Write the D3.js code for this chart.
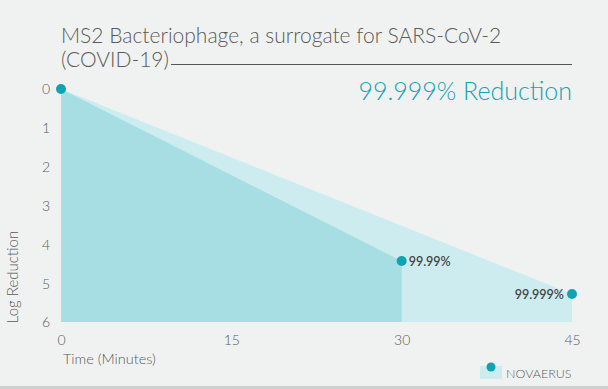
<!DOCTYPE html>
<html>
<head>
<meta charset="utf-8">
<script src="https://cdn.jsdelivr.net/npm/d3@7"></script>
<style>
  html, body { margin: 0; padding: 0; background: #f0f2f1; }
  svg { display: block; font-family: Lato, "Open Sans", sans-serif; }
</style>
</head>
<body>
<svg id="chart" width="608" height="389"></svg>
<script>
// ===== Data =====
const minutes = [0, 30, 45];
const logRed = [0, 4.43, 5.28];
const pctLabels = ["", "99.99%", "99.999%"];
const yTicks = [0, 1, 2, 3, 4, 5, 6];
const xTicks = [0, 15, 30, 45];

const svg = d3.select("#chart");
const x = d3.scaleLinear().domain([0, 45]).range([61, 572]);
const y = d3.scaleLinear().domain([0, 6]).range([89, 322]);

const dark = "#a6dee4", light = "#cdecef", teal = "#12a3b3", grey = "#5a5a5a";

// bottom border
svg.append("rect").attr("x", 0).attr("y", 386).attr("width", 608).attr("height", 3).attr("fill", "#cfd1d0");

// ===== Title =====
svg.append("text").attr("x", 61).attr("y", 43).attr("fill", grey)
  .style("font-size", "21px").style("font-weight", 300)
  .text("MS2 Bacteriophage, a surrogate for SARS-CoV-2");
const t2 = svg.append("text").attr("x", 61).attr("y", 67).attr("fill", grey)
  .style("font-size", "21px").style("font-weight", 300)
  .text("(COVID-19)");
const tw = t2.node().getComputedTextLength();
svg.append("line").attr("x1", 61 + tw + 2).attr("x2", 572).attr("y1", 64.5).attr("y2", 64.5)
  .attr("stroke", "#555").attr("stroke-width", 1);

svg.append("text").attr("x", 572).attr("y", 100).attr("text-anchor", "end")
  .attr("fill", teal).style("font-size", "25px").style("font-weight", 300)
  .text("99.999% Reduction");

// ===== Areas =====
const area = d3.area().x(d => x(d[0])).y0(y(6)).y1(d => y(d[1]));
svg.append("path")
  .datum([[minutes[0], logRed[0]], [minutes[2], logRed[2]]])
  .attr("fill", light).attr("d", area);
svg.append("path")
  .datum([[minutes[0], logRed[0]], [minutes[1], logRed[1]]])
  .attr("fill", dark).attr("d", area);

// ===== Axes =====
const yAxis = svg.append("g").attr("transform", "translate(50,0)")
  .call(d3.axisLeft(y).tickValues(yTicks).tickFormat(d3.format("d")).tickSize(0).tickPadding(0));
yAxis.select(".domain").remove();
yAxis.selectAll("text").attr("fill", grey).style("font-size", "14px").style("font-weight", 300)
  .style("font-family", "Lato, sans-serif").attr("dy", "0.35em");

const xAxis = svg.append("g").attr("transform", "translate(0,335)")
  .call(d3.axisBottom(x).tickValues(xTicks).tickSize(0).tickPadding(0));
xAxis.select(".domain").remove();
xAxis.selectAll("text").attr("fill", grey).style("font-size", "14px").style("font-weight", 300)
  .style("font-family", "Lato, sans-serif").attr("dy", "0.71em");

svg.append("text").attr("transform", "translate(18,277) rotate(-90)").attr("text-anchor", "middle")
  .attr("fill", grey).style("font-size", "15px").style("font-weight", 300).text("Log Reduction");
svg.append("text").attr("x", 63).attr("y", 364).attr("fill", grey)
  .style("font-size", "14.5px").style("font-weight", 300).text("Time (Minutes)");

// ===== Points + labels =====
minutes.forEach((m, i) => {
  svg.append("circle").attr("cx", x(m)).attr("cy", y(logRed[i])).attr("r", 5).attr("fill", teal);
  if (!pctLabels[i]) return;
  const last = i === minutes.length - 1;
  svg.append("text")
    .attr("x", last ? x(m) - 8 : x(m) + 7)
    .attr("y", y(logRed[i]) + 5)
    .attr("text-anchor", last ? "end" : "start")
    .attr("fill", "#444").style("font-size", "12.5px").style("font-weight", 600)
    .text(pctLabels[i]);
});

// ===== Legend =====
svg.append("rect").attr("x", 480).attr("y", 366).attr("width", 22).attr("height", 13).attr("fill", light);
svg.append("circle").attr("cx", 491).attr("cy", 367).attr("r", 4.5).attr("fill", teal);
svg.append("text").attr("x", 506).attr("y", 378).attr("fill", grey)
  .style("font-size", "12.5px").style("font-weight", 300).text("NOVAERUS");
</script>
</body>
</html>
